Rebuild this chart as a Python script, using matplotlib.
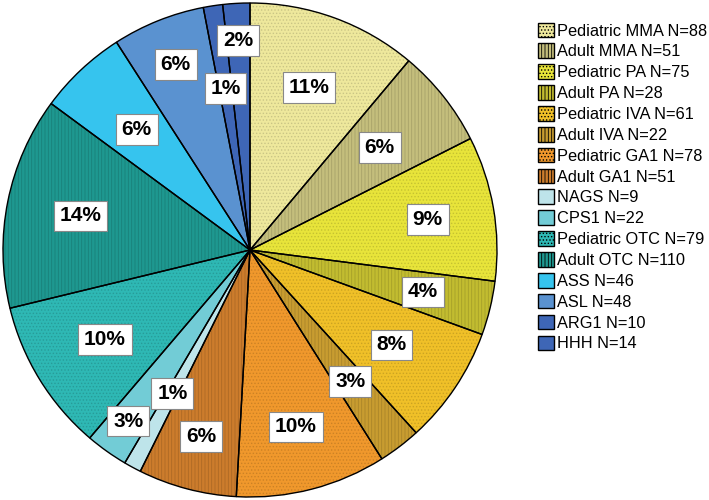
import matplotlib.pyplot as plt
from matplotlib.patches import Patch
from matplotlib.colors import to_rgb
import numpy as np

plt.rcParams['font.family'] = ['Liberation Sans', 'DejaVu Sans']
plt.rcParams['hatch.linewidth'] = 0.6

# data
groups = ["Pediatric MMA", "Adult MMA", "Pediatric PA", "Adult PA",
          "Pediatric IVA", "Adult IVA", "Pediatric GA1", "Adult GA1",
          "NAGS", "CPS1", "Pediatric OTC", "Adult OTC",
          "ASS", "ASL", "ARG1", "HHH"]
counts = [88, 51, 75, 28, 61, 22, 78, 51, 9, 22, 79, 110, 46, 48, 10, 14]

colors = ['#EEE89C', '#C4BE7C', '#E8E43A', '#C2BC30',
          '#F0C028', '#C89C30', '#F0982C', '#CC7C2C',
          '#BEE4EA', '#72CCD6', '#2EB8B4', '#1E9890',
          '#36C4EE', '#5A92D0', '#3E66B6', '#3E66B6']
hatches = ['.....', '|||||', '.....', '|||||', '.....', '|||||', '.....', '|||||',
           '', '', '.....', '|||||', '', '', '', '']
# radial position of each percent label (fraction of radius)
label_r = [0.70, 0.67, 0.73, 0.72, 0.69, 0.67, 0.74, 0.78,
           0.66, 0.85, 0.69, 0.70, 0.67, 0.81, 0.66, 0.85]


def darker(c, f=0.85):
    r, g, b = to_rgb(c)
    return (r * f, g * f, b * f)


fig = plt.figure(figsize=(7.09, 5.0), dpi=100)
ax = fig.add_axes([0, 0, 500 / 709, 1])
ax.set_aspect('equal')

# filled + textured wedges
wedges, _ = ax.pie(counts, colors=colors, startangle=90, counterclock=False,
                   wedgeprops=dict(linewidth=0))
for w, c, h in zip(wedges, colors, hatches):
    if h:
        w.set_edgecolor(darker(c))
        w.set_hatch(h)
# black outlines on top
ax.pie(counts, colors=['none'] * len(counts), startangle=90, counterclock=False,
       wedgeprops=dict(linewidth=1.0, edgecolor='black', fill=False))

ax.set_xlim(-250 / 247, 250 / 247)
ax.set_ylim(-250 / 247, 250 / 247)

total = sum(counts)
cum = 0
for n, r in zip(counts, label_r):
    mid = cum + n / 2
    cum += n
    ang = np.deg2rad(90 - mid / total * 360)
    ax.text(r * np.cos(ang), r * np.sin(ang), f"{round(100 * n / total)}%",
            ha='center', va='center', fontsize=15, fontweight='bold',
            bbox=dict(boxstyle='square,pad=0.28', fc='white', ec='#888888', lw=0.8))

handles = [Patch(facecolor=c, edgecolor='black', hatch=h, linewidth=1.0)
           for c, h in zip(colors, hatches)]
labels = [f"{g} N={n}" for g, n in zip(groups, counts)]
fig.legend(handles, labels, loc='upper left', bbox_to_anchor=(531 / 709, 1 - 16 / 500),
           frameon=False, fontsize=11.8, handlelength=1.0, handleheight=1.0,
           handletextpad=0.2, labelspacing=0.3, borderaxespad=0)

fig.savefig("out.png", dpi=100)
